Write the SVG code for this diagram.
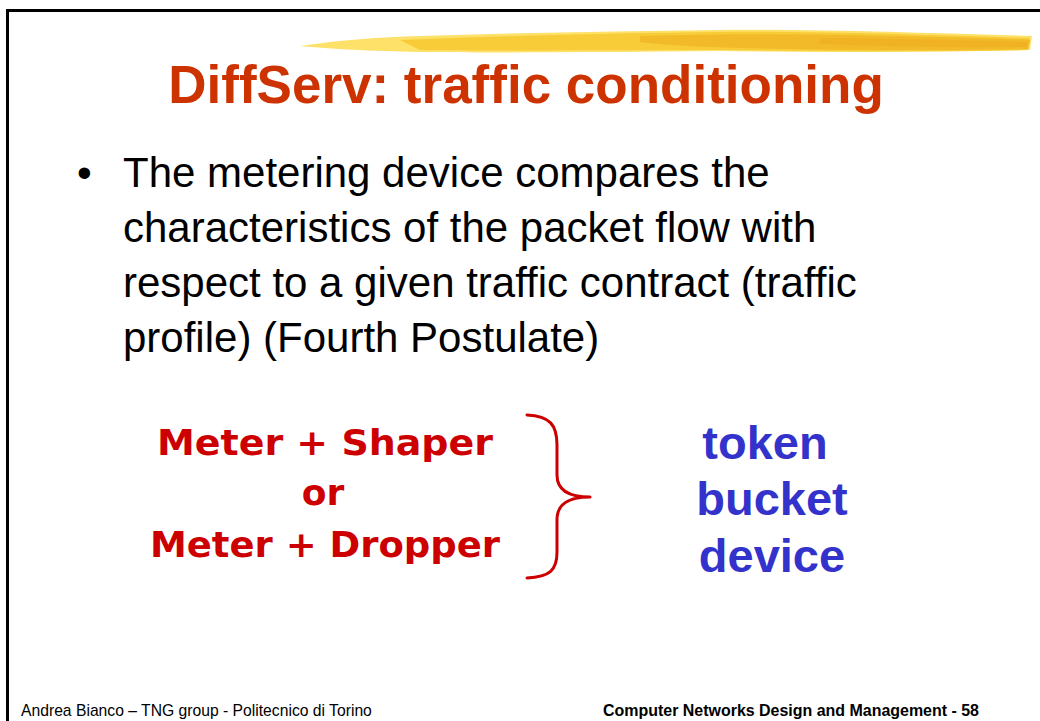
<svg xmlns="http://www.w3.org/2000/svg" width="1040" height="721" viewBox="0 0 1040 721">
  <style>
    .title { font-family: "Liberation Sans", Arial, sans-serif; font-weight: bold; font-size: 53px; fill: #CC3300; }
    .body { font-family: "Liberation Sans", Arial, sans-serif; font-size: 42px; fill: #000000; }
    .comic { font-family: "Comic Sans MS", "DejaVu Sans", sans-serif; font-weight: bold; font-size: 36px; fill: #CC0000; }
    .blue { font-family: "Liberation Sans", Arial, sans-serif; font-weight: bold; font-size: 47px; fill: #3333CC; }
    .foot { font-family: "Liberation Sans", Arial, sans-serif; font-size: 15.7px; fill: #000000; }
    .footb { font-family: "Liberation Sans", Arial, sans-serif; font-weight: bold; font-size: 15.7px; fill: #000000; }
  </style>

  <rect width="1040" height="721" fill="#ffffff"/>

  <!-- slide frame -->
  <g id="frame" stroke="#000000" stroke-width="3" fill="none">
    <line x1="7.5" y1="10.5" x2="1040" y2="10.5"/>
    <line x1="7.5" y1="9" x2="7.5" y2="721"/>
  </g>

  <!-- brush stroke under the title -->
  <g id="brush">
    <path d="M300,46 C340,40 380,37 420,36 C520,33 620,31 720,30 C820,29 920,33 1032,36 L1030,50 C930,53 820,52 720,51 C620,52 500,53 420,52 C370,51 330,49 300,46 Z" fill="#FDE168"/>
    <path d="M400,40 C500,36 620,33 720,32 C820,31 920,35 1030,38 L1028,50 C920,52 820,51 720,50 C620,50 500,51 420,50 Z" fill="#F8CC38"/>
    <path d="M640,36 C740,33 840,34 940,37 C980,38 1010,39 1030,40 L1028,49 C940,51 840,50 740,48 C700,47 660,45 640,42 Z" fill="#F2BA28"/>
    <path d="M820,38 C880,38 950,40 1028,42 L1027,47 C950,48 880,46 820,44 Z" fill="#EFB020" opacity="0.8"/>
  </g>

  <!-- title -->
  <g id="title">
    <text class="title" x="526" y="103" text-anchor="middle">DiffServ: traffic conditioning</text>
  </g>

  <!-- bullet text -->
  <g id="bullet">
    <text class="body" x="77" y="187">•</text>
    <text class="body" x="123" y="187">The metering device compares the</text>
    <text class="body" x="123" y="242">characteristics of the packet flow with</text>
    <text class="body" x="123" y="297">respect to a given traffic contract (traffic</text>
    <text class="body" x="123" y="352">profile) (Fourth Postulate)</text>
  </g>

  <!-- options -->
  <g id="options">
    <text class="comic" x="325" y="455" text-anchor="middle" textLength="336" lengthAdjust="spacingAndGlyphs">Meter + Shaper</text>
    <text class="comic" x="323" y="505" text-anchor="middle">or</text>
    <text class="comic" x="325" y="557" text-anchor="middle" textLength="350" lengthAdjust="spacingAndGlyphs">Meter + Dropper</text>
  </g>

  <!-- connectors -->
  <g id="connectors">
    <path d="M527,415 C550,416 557,425 557,445 L557,475 C557,490 568,497 590,497 C568,497 557,504 557,520 L557,552 C557,570 550,577 527,578" fill="none" stroke="#CC0000" stroke-width="3" stroke-linecap="round" stroke-linejoin="round"/>
  </g>

  <!-- result -->
  <g id="result">
    <text class="blue" x="765" y="459" text-anchor="middle">token</text>
    <text class="blue" x="772" y="515" text-anchor="middle">bucket</text>
    <text class="blue" x="772" y="572" text-anchor="middle">device</text>
  </g>

  <!-- footer -->
  <g id="footer">
    <text class="foot" x="21" y="716">Andrea Bianco – TNG group - Politecnico di Torino</text>
    <text class="footb" x="603" y="716" textLength="376" lengthAdjust="spacingAndGlyphs">Computer Networks Design and Management - 58</text>
  </g>
</svg>
